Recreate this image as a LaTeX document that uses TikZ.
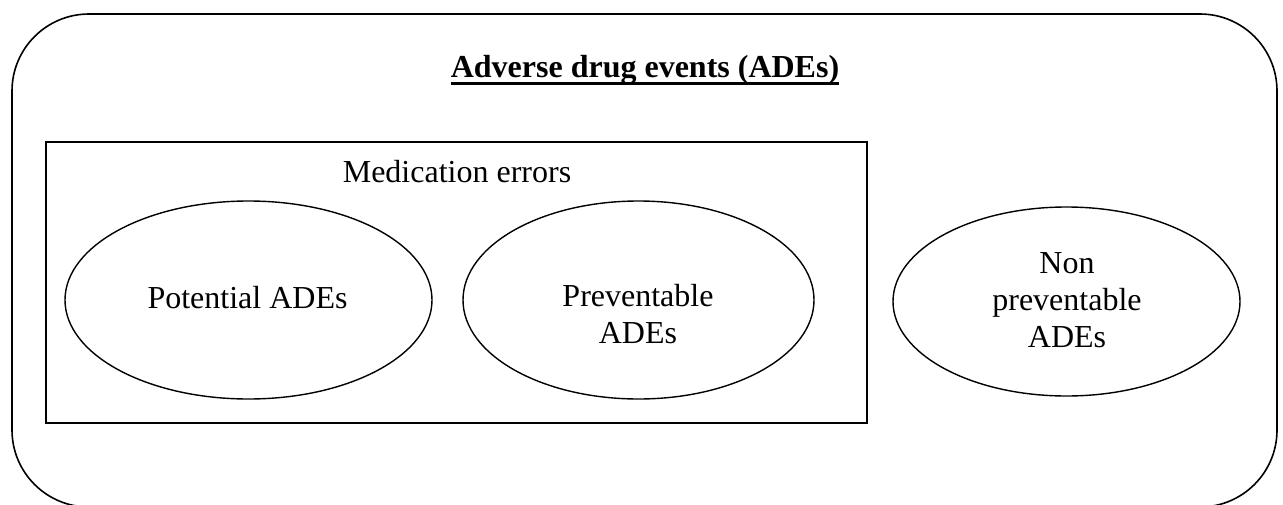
\documentclass[tikz,border=0pt]{standalone}
\usepackage{fontspec}
\setmainfont{Liberation Serif}
\usetikzlibrary{shapes.geometric}
\begin{document}
\begin{tikzpicture}[x=1pt,y=-1pt,
  lw/.style={line width=1.6pt},
  ell/.style={line width=1.4pt,draw,ellipse,inner sep=0pt},
  txt/.style={font=\fontsize{32}{37}\selectfont,anchor=base,inner sep=0pt,align=center}]
\useasboundingbox (0,0) rectangle (1283,504);
\draw[lw,rounded corners=77pt] (12,14) rectangle (1277,507);
\node[txt,font=\fontsize{32}{37}\selectfont\bfseries] (title) at (645,77) {Adverse drug events (ADEs)};
\draw[line width=2.6pt] ([yshift=-6.5pt]title.base west) -- ([yshift=-6.5pt]title.base east);
\node[lw,draw,rectangle,inner sep=0pt,minimum width=821pt,minimum height=281pt] (med) at (456.5,282.5) {};
\node[txt] (medlbl) at (457,182) {Medication errors};
\node[ell,minimum width=367pt,minimum height=198pt] (pot) at (248.5,300) {};
\node[txt] (potlbl) at (247.5,308) {Potential ADEs};
\node[ell,minimum width=351pt,minimum height=198pt] (prev) at (638.5,300) {};
\node[txt] (prevlbl) at (638,343) {Preventable\\ADEs};
\node[ell,minimum width=347pt,minimum height=189pt] (non) at (1066.5,301.5) {};
\node[txt] (nonlbl) at (1067,347) {Non\\preventable\\ADEs};
\end{tikzpicture}
\end{document}
